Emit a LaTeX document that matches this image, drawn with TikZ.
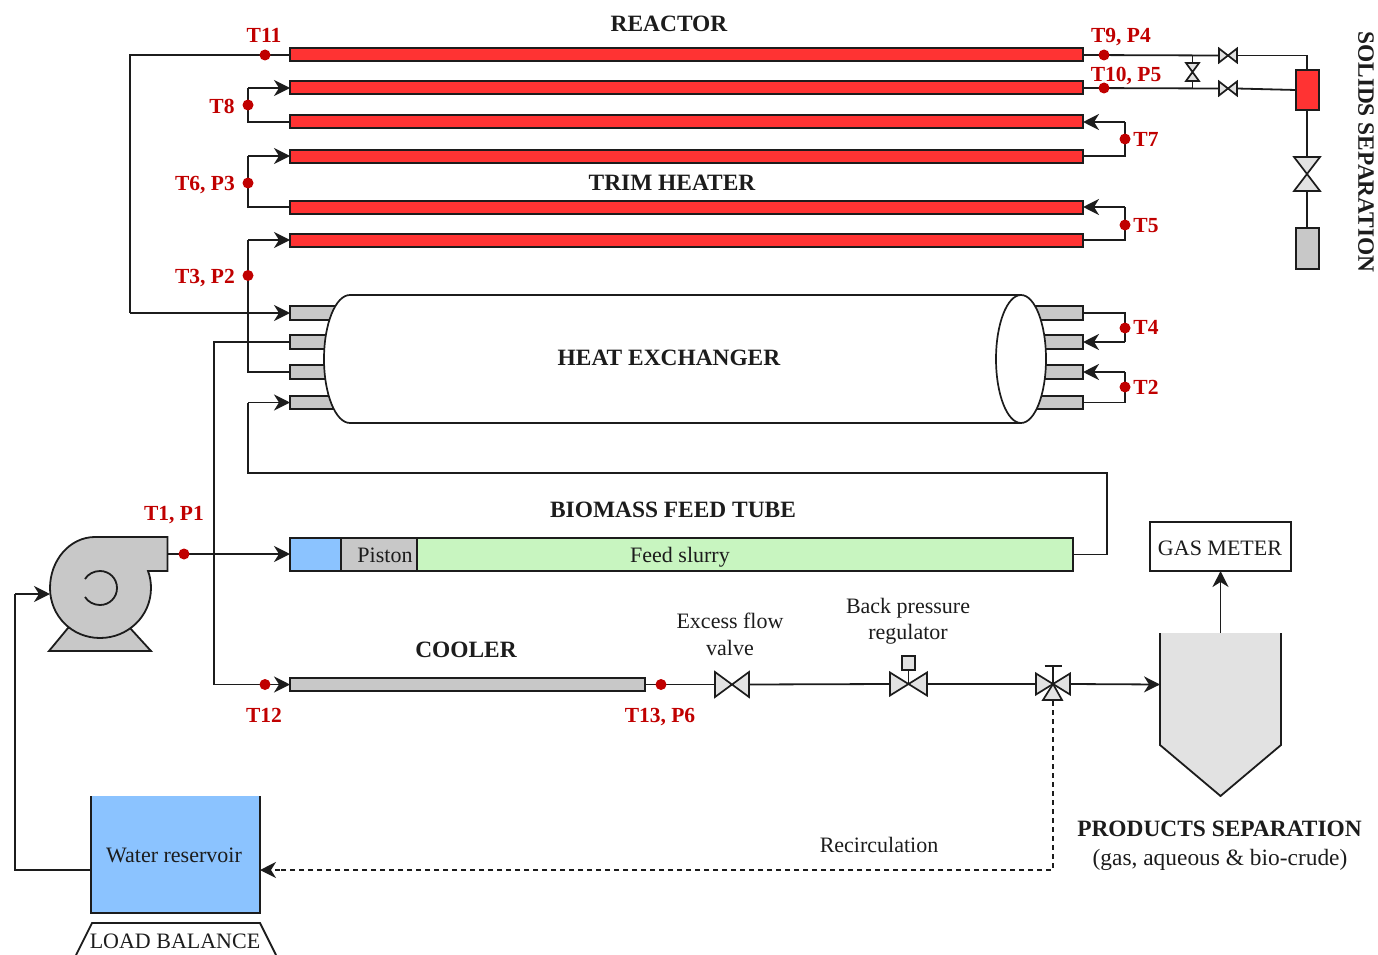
\documentclass[tikz,border=0pt]{standalone}
\usepackage{fontspec}
\setmainfont{Liberation Serif}
\usetikzlibrary{arrows.meta}
\definecolor{ink}{HTML}{1C1C1C}
\definecolor{redfill}{HTML}{FF3333}
\definecolor{grayfill}{HTML}{C8C8C8}
\definecolor{valvefill}{HTML}{E2E2E2}
\definecolor{bluefill}{HTML}{8BC3FF}
\definecolor{greenfill}{HTML}{C8F5C0}
\definecolor{labelred}{HTML}{C00000}
\tikzset{
  line/.style={draw=ink,line width=1.8pt,line join=miter},
  arrowline/.style={line,-{Stealth[length=16pt,width=16pt,inset=5pt]}},
  dashline/.style={line,line width=1.5pt,dash pattern=on 5pt off 4pt},
  dashtip/.style={dashline,-{Stealth[length=16pt,width=16pt,inset=5pt]}},
  box/.style={draw=ink,line width=2pt,inner sep=0pt,outer sep=0pt},
  tube/.style={box,fill=redfill,minimum width=793pt,minimum height=13pt},
  port/.style={box,fill=grayfill,minimum width=48pt,minimum height=13.5pt},
  dot/.style={circle,fill=labelred,inner sep=0pt,minimum size=11pt},
  txt/.style={inner sep=0pt,text=ink,font=\fontsize{22}{24}\selectfont,text height=14.5pt,text depth=0pt},
  head/.style={inner sep=0pt,text=ink,font=\fontsize{23.4}{26}\selectfont\bfseries,text height=15.5pt,text depth=0pt},
  tag/.style={inner sep=0pt,text=labelred,font=\fontsize{21.5}{24}\selectfont\bfseries,text height=14.2pt,text depth=0pt},
  vbox/.style={inner sep=0pt,outer sep=0pt,minimum width=#1},
  vshape/.style={draw=ink,line width=1.7pt,fill=valvefill,line join=miter},
}
\newcommand{\hvalve}[1]{\draw[vshape] (#1.north west) -- (#1.south east) -- (#1.north east) -- (#1.south west) -- cycle;}
\newcommand{\vvalve}[1]{\draw[vshape] (#1.north west) -- (#1.north east) -- (#1.south west) -- (#1.south east) -- cycle;}
\begin{document}
\begin{tikzpicture}[x=1pt,y=-1pt]
\useasboundingbox (0,0) rectangle (1378,955);
% tubes
\node[tube] (r1) at (686.5,55) {};
\node[tube] (r2) at (686.5,88) {};
\node[tube] (r3) at (686.5,122) {};
\node[tube] (r4) at (686.5,156) {};
\node[tube] (r5) at (686.5,207) {};
\node[tube] (r6) at (686.5,240) {};
% heat exchanger ports
\node[port] (pl1) at (314,313) {};
\node[port] (pl2) at (314,342) {};
\node[port] (pl3) at (314,372) {};
\node[port] (pl4) at (314,402.5) {};
\node[port] (pr1) at (1059,313) {};
\node[port] (pr2) at (1059,342) {};
\node[port] (pr3) at (1059,372) {};
\node[port] (pr4) at (1059,402.5) {};
% heat exchanger body
\draw[draw=ink,line width=1.7pt,fill=white] (350,295) -- (1021,295) -- (1021,423) -- (350,423)
  .. controls (335.6,423) and (324,394.3) .. (324,359)
  .. controls (324,323.7) and (335.6,295) .. (350,295) -- cycle;
\draw[draw=ink,line width=1.7pt,fill=white] (1021,359) ellipse [x radius=25,y radius=64];
\node[head] (hxl) at (669,358) {HEAT EXCHANGER};
% feed tube
\node[box,fill=bluefill,minimum width=51pt,minimum height=33pt] (fblue) at (315.5,554.5) {};
\node[box,fill=grayfill,minimum width=76pt,minimum height=33pt] (fpist) at (379,554.5) {};
\node[box,fill=greenfill,minimum width=656pt,minimum height=33pt] (fgreen) at (745,554.5) {};
\node[txt] (pistl) at (385,555) {Piston};
\node[txt] (slurl) at (680,555) {Feed slurry};
% cooler
\node[box,fill=grayfill,minimum width=355pt,minimum height=13pt] (cool) at (467.5,684.5) {};
% valves
\node[vbox=34pt,minimum height=25pt] (v1) at (732,684.5) {};
\node[vbox=37pt,minimum height=23pt] (v2) at (908.5,684) {};
\node[box,fill=valvefill,minimum width=13pt,minimum height=14pt] (v2b) at (908.5,663) {};
\node[vbox=34pt,minimum height=21pt] (v3) at (1053,684) {};
\node[vbox=18pt,minimum height=14pt] (v4) at (1228,55.5) {};
\node[vbox=18pt,minimum height=14pt] (v5) at (1228,88.5) {};
\node[vbox=13pt,minimum height=18pt] (v6) at (1192.5,72) {};
\node[vbox=26pt,minimum height=34pt] (v7) at (1307,174) {};
% solids separation boxes
\node[box,fill=redfill,minimum width=23pt,minimum height=40pt] (sep) at (1307.5,90) {};
\node[box,fill=grayfill,minimum width=23pt,minimum height=41pt] (cat) at (1307.5,248.5) {};
% reservoir, gas meter
\node[inner sep=0pt,outer sep=0pt,fill=bluefill,minimum width=169pt,minimum height=117pt] (res) at (175.5,854.5) {};
\draw[line] (res.north west) -- (res.south west) -- (res.south east) -- (res.north east);
\node[txt] (resl) at (174,855) {Water reservoir};
\node[box,fill=white,minimum width=141pt,minimum height=49pt] (gas) at (1220.5,546.5) {};
\node[txt] (gasl) at (1220,548) {GAS METER};
% products separator
\fill[valvefill] (1160,633) -- (1281,633) -- (1281,745) -- (1220.5,796) -- (1160,745) -- cycle;
\draw[line] (1160,633) -- (1160,745) -- (1220.5,796) -- (1281,745) -- (1281,633);
\coordinate (prodL) at (1160,684.5);
\coordinate (prodT) at (1220.5,633);
% pump
\draw[line,fill=grayfill] (68,628) -- (49,651) -- (151,651) -- (130,628) -- cycle;
\draw[line,fill=grayfill] (148,571) -- (167.5,571) -- (167.5,537) -- (95,537)
  .. controls (70,537) and (50,560) .. (50,588)
  .. controls (50,616) and (72,638) .. (100,638)
  .. controls (128,638) and (151,616) .. (151,588)
  .. controls (151,582) and (150,576) .. (148,571) -- cycle;
\draw[line] (85,579) .. controls (88,574) and (94,571) .. (100,571)
  .. controls (109.5,571) and (117,578.5) .. (117,588)
  .. controls (117,597.5) and (109.5,605) .. (100,605)
  .. controls (94,605) and (88,602) .. (85,597);
\coordinate (pumpOut) at (167.5,554);
\coordinate (pumpIn) at (50,594);
% junction coordinates
\coordinate (c1) at (130,55);
\coordinate (c2) at (130,313);
\coordinate (c3) at (248,122);
\coordinate (c4) at (248,88);
\coordinate (c5) at (1125,156);
\coordinate (c6) at (1125,122);
\coordinate (c7) at (248,207);
\coordinate (c8) at (248,156);
\coordinate (c9) at (1125,240);
\coordinate (c10) at (1125,207);
\coordinate (c11) at (248,372);
\coordinate (c12) at (248,240);
\coordinate (c13) at (214,342);
\coordinate (c14) at (214,684.5);
\coordinate (c15) at (1125,313);
\coordinate (c16) at (1125,342);
\coordinate (c17) at (1125,402.5);
\coordinate (c18) at (1125,372);
\coordinate (c19) at (1107,554.5);
\coordinate (c20) at (1107,473);
\coordinate (c21) at (248,473);
\coordinate (c22) at (248,402.5);
\coordinate (c23) at (1307,55.5);
\coordinate (c24) at (15,870);
\coordinate (c25) at (15,594);
\coordinate (c26) at (1053,870);
\coordinate (c27) at (1053,701);
\coordinate (resL) at (91,870);
\coordinate (resR) at (260,870);
\coordinate (j1) at (1192.5,55.5);
\coordinate (j2) at (1192.5,88.5);
% connectors
\draw[line] (r1.west) -- (c1) -- (c2);
\draw[arrowline] (c2) -- (pl1.west);
\draw[line] (r3.west) -- (c3) -- (c4);
\draw[arrowline] (c4) -- (r2.west);
\draw[line] (r4.east) -- (c5) -- (c6);
\draw[arrowline] (c6) -- (r3.east);
\draw[line] (r5.west) -- (c7) -- (c8);
\draw[arrowline] (c8) -- (r4.west);
\draw[line] (r6.east) -- (c9) -- (c10);
\draw[arrowline] (c10) -- (r5.east);
\draw[line] (pl3.west) -- (c11) -- (c12);
\draw[arrowline] (c12) -- (r6.west);
\draw[line] (pl2.west) -- (c13) -- (c14);
\draw[arrowline] (c14) -- (cool.west);
\draw[line] (pr1.east) -- (c15) -- (c16);
\draw[arrowline] (c16) -- (pr2.east);
\draw[line] (pr4.east) -- (c17) -- (c18);
\draw[arrowline] (c18) -- (pr3.east);
\draw[line] (fgreen.east) -- (c19) -- (c20) -- (c21) -- (c22);
\draw[arrowline] (c22) -- (pl4.west);
\draw[arrowline] (pumpOut) -- (pumpOut -| fblue.west);
\draw[line] (resL) -- (c24) -- (c25);
\draw[arrowline] (c25) -- (pumpIn);
\draw[line] (cool.east) -- (v1.west);
\draw[line] (v1.east) -- (v2.west);
\draw[line] (v2.east) -- (v3.west);
\draw[arrowline] (v3.east) -- (prodL);
\draw[arrowline] (prodT) -- (gas.south);
\draw[dashline] (c27) -- (c26) -- (resR -| 280,870);
\draw[dashtip] (280,870) -- (resR);
\draw[line] (r1.east) -- (v4.west);
\draw[line] (r2.east) -- (v5.west);
\draw[line] (v4.east) -- (c23) -- (sep.north -| c23);
\draw[line] (v5.east) -- (sep.west);
\draw[line] (j1) -- (v6.north);
\draw[line] (v6.south) -- (j2);
\draw[line] (sep.south -| v7) -- (v7.north);
\draw[line] (v7.south) -- (cat.north -| v7);
% valve symbols
\hvalve{v1}
\hvalve{v2}
\draw[line] (v2.center) -- (v2b.south);
\hvalve{v3}
\hvalve{v4}
\hvalve{v5}
\vvalve{v6}
\vvalve{v7}
\draw[vshape] (v3.center) -- (1043,700) -- (1062,700) -- cycle;
\draw[line] (v3.center) -- (1053,666);
\draw[line] (1044.5,666) -- (1061.5,666);
% load balance
\draw[line] (76,955) -- (92,923) -- (260,923) -- (276,955);
\node[txt] (lbl) at (175,941) {LOAD BALANCE};
% dots
\node[dot] (d11) at (265,55) {};
\node[dot] (d9) at (1104,55) {};
\node[dot] (d10) at (1104,88) {};
\node[dot] (d8) at (248,105) {};
\node[dot] (d7) at (1125,139) {};
\node[dot] (d6) at (248,183) {};
\node[dot] (d5) at (1125,225) {};
\node[dot] (d3) at (248,275.5) {};
\node[dot] (d4) at (1125,328) {};
\node[dot] (d2) at (1125,387) {};
\node[dot] (d1) at (184,554) {};
\node[dot] (d12) at (265,684.5) {};
\node[dot] (d13) at (661,684.5) {};
% headings
\node[head] (h1) at (669,24) {REACTOR};
\node[head] (h2) at (672,183) {TRIM HEATER};
\node[head] (h3) at (673,510) {BIOMASS FEED TUBE};
\node[head] (h4) at (466,650) {COOLER};
\node[head] (h5) at (1219.5,829) {PRODUCTS SEPARATION};
\node[head,rotate=-90] (h6) at (1366,152) {SOLIDS SEPARATION};
% tags
\node[tag] (t11) at (264,35) {T11};
\node[tag] (t9) at (1121,35) {T9, P4};
\node[tag] (t10) at (1126,74) {T10, P5};
\node[tag] (t8) at (222,106) {T8};
\node[tag] (t7) at (1146,139) {T7};
\node[tag] (t6) at (205,183) {T6, P3};
\node[tag] (t5) at (1146,225) {T5};
\node[tag] (t3) at (205,276) {T3, P2};
\node[tag] (t4) at (1146,327) {T4};
\node[tag] (t2) at (1146,387) {T2};
\node[tag] (t1) at (174,513) {T1, P1};
\node[tag] (t12) at (264,715) {T12};
\node[tag] (t13) at (660,715) {T13, P6};
% text
\node[txt] (e1) at (730,621) {Excess flow};
\node[txt] (e2) at (730,648) {valve};
\node[txt] (b1) at (908,606) {Back pressure};
\node[txt] (b2) at (908,632) {regulator};
\node[txt] (rc) at (879,845) {Recirculation};
\node[txt,font=\fontsize{23.4}{26}\selectfont] (ps) at (1220,858) {(gas, aqueous \& bio-crude)};
\end{tikzpicture}
\end{document}
